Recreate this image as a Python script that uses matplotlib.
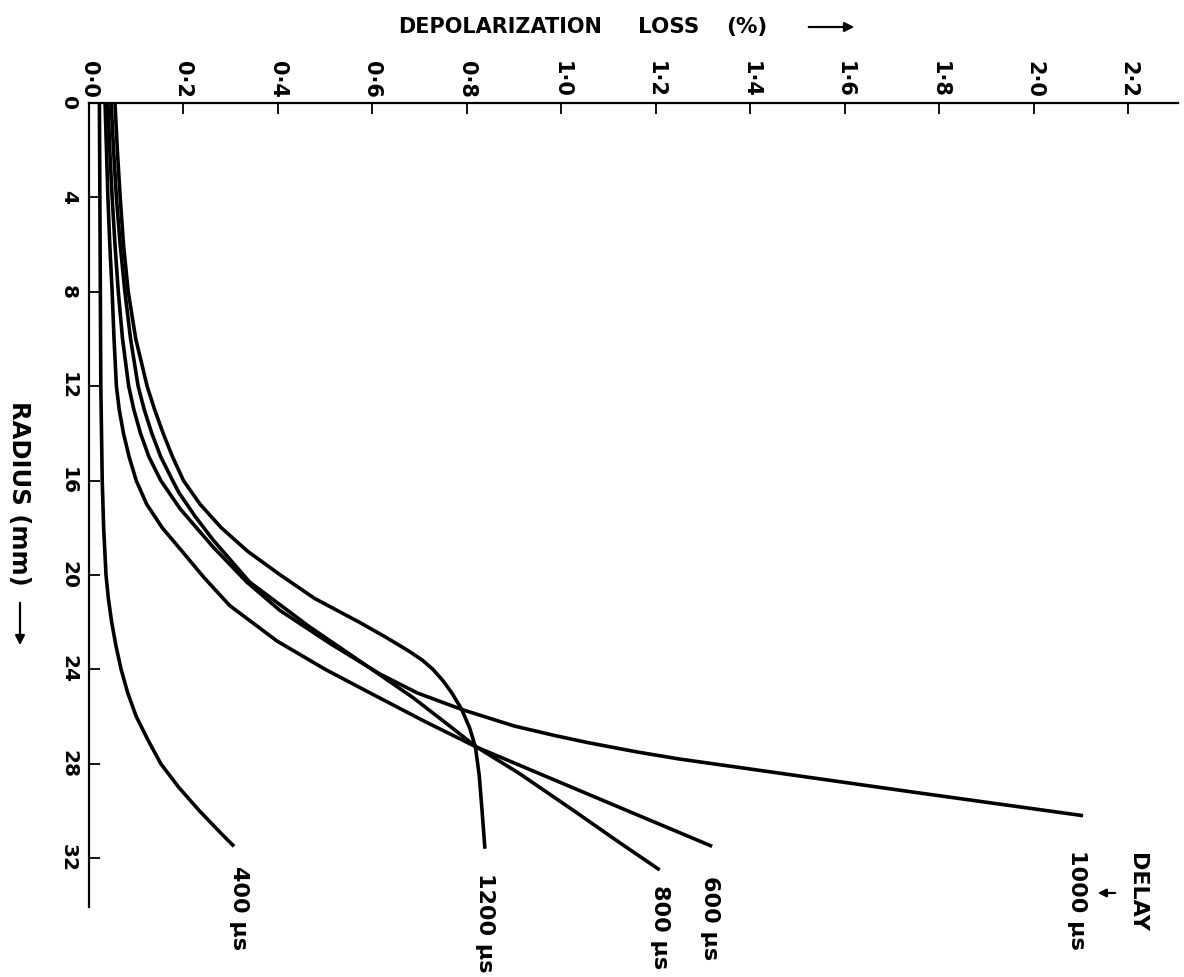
import numpy as np
import matplotlib
matplotlib.use("Agg")
import matplotlib.pyplot as plt
from matplotlib.patches import FancyArrowPatch

W, H = 1184, 977

# radius (mm) and depolarization loss (%)
r400 = [0, 4, 8, 12, 16, 18, 20, 21, 22, 23, 24, 25, 26, 27, 28, 29, 30, 31, 31.5]
l400 = [0.022, 0.023, 0.024, 0.025, 0.028, 0.031, 0.036, 0.041, 0.048, 0.057, 0.068, 0.082,
        0.1, 0.125, 0.152, 0.19, 0.234, 0.282, 0.307]

r600 = [0, 2, 4, 6, 8, 10, 12, 13, 14, 15, 16, 17, 18, 18.9, 20.1, 21.3, 22.8, 24, 25, 26.2,
        27.3, 28.5, 29.8, 31.5]
l600 = [0.034, 0.037, 0.04, 0.044, 0.049, 0.053, 0.058, 0.064, 0.073, 0.085, 0.1, 0.122, 0.155,
        0.193, 0.243, 0.298, 0.398, 0.5, 0.595, 0.71, 0.821, 0.963, 1.117, 1.319]

r800 = [0, 2, 4, 6, 8, 10, 12, 13, 14, 15, 16, 16.5, 17.5, 18.5, 20.3, 22.2, 23.7, 25.2, 26.3,
        27.3, 28.4, 30, 31.3, 32.5]
l800 = [0.047, 0.052, 0.058, 0.066, 0.076, 0.088, 0.104, 0.117, 0.133, 0.152, 0.177, 0.19, 0.224,
        0.262, 0.34, 0.467, 0.577, 0.686, 0.757, 0.821, 0.91, 1.027, 1.12, 1.208]

r1000 = [0, 2, 4, 6, 8, 10, 12, 13, 14, 15, 16, 17.2, 18.8, 20.3, 21.5, 22.9, 24.2, 25, 25.7,
         26.4, 26.8, 27.1, 27.5, 27.8, 28.4, 29.2, 30.2]
l1000 = [0.04, 0.044, 0.049, 0.055, 0.062, 0.071, 0.084, 0.095, 0.109, 0.127, 0.152, 0.193,
         0.262, 0.334, 0.404, 0.51, 0.616, 0.695, 0.789, 0.9, 0.985, 1.055, 1.16, 1.25, 1.462,
         1.744, 2.104]

r1200 = [0, 2, 4, 6, 8, 10, 12, 13, 14, 15, 16, 17, 18, 19, 20, 21, 22, 22.6, 23.2, 23.6, 24,
         24.5, 25, 25.7, 26.5, 27.3, 28.5, 30, 31.6]
l1200 = [0.055, 0.06, 0.066, 0.073, 0.083, 0.099, 0.123, 0.139, 0.157, 0.177, 0.2, 0.235, 0.28,
         0.336, 0.405, 0.478, 0.572, 0.625, 0.675, 0.705, 0.728, 0.75, 0.768, 0.789, 0.806,
         0.818, 0.826, 0.832, 0.838]

loss_ticks = [0.0, 0.2, 0.4, 0.6, 0.8, 1.0, 1.2, 1.4, 1.6, 1.8, 2.0, 2.2]
loss_labels = ["0·0", "0·2", "0·4", "0·6", "0·8", "1·0", "1·2", "1·4", "1·6", "1·8", "2·0", "2·2"]
radius_ticks = [0, 4, 8, 12, 16, 20, 24, 28, 32]

curves = [
    (r400, l400, "400 µs", (5, -20)),
    (r600, l600, "600 µs", (-2, -30)),
    (r800, l800, "800 µs", (0, -15)),
    (r1000, l1000, "1000 µs", (-6, -34)),
    (r1200, l1200, "1200 µs", (0, -24)),
]

plt.rcParams['font.family'] = ['DejaVu Sans']

fig = plt.figure(figsize=(W / 100, H / 100), dpi=100)
ax = fig.add_axes([89 / W, 1 - 907 / H, (1178 - 89) / W, (907 - 103) / H])

for r, l, name, off in curves:
    ax.plot(l, r, color="black", lw=2.6, solid_joinstyle="round", solid_capstyle="butt")
    ax.annotate(name, xy=(l[-1], r[-1]), xytext=off, textcoords="offset pixels",
                rotation=-90, ha="center", va="top", fontsize=16, fontweight="bold")

# "DELAY" note beside the 1000 us label
ax.annotate("DELAY", xy=(l1000[-1], r1000[-1]), xytext=(54, -37), textcoords="offset pixels",
            rotation=-90, ha="center", va="top", fontsize=16, fontweight="bold")
ax.annotate("", xy=(1095, H - 893), xycoords="figure pixels",
            xytext=(1118, H - 893), textcoords="figure pixels",
            arrowprops=dict(arrowstyle="-|>", lw=1.6, color="black", mutation_scale=12))

ax.set_xlim(0, 2.305)
ax.set_ylim(34.07, 0)

ax.xaxis.tick_top()
ax.set_xticks(loss_ticks)
ax.set_xticklabels(loss_labels, rotation=-90, fontsize=15, fontweight="bold")
ax.set_yticks(radius_ticks)
ax.set_yticklabels([str(t) for t in radius_ticks], rotation=-90, fontsize=14.5,
                   fontweight="bold", va="center")
ax.tick_params(axis="x", direction="in", length=8, width=1.3, pad=4)
ax.tick_params(axis="y", direction="in", length=8, width=1.3, pad=8)

for side in ["right", "bottom"]:
    ax.spines[side].set_visible(False)
for side in ["top", "left"]:
    ax.spines[side].set_linewidth(1.6)

# axis titles, written as on the original page
fig.text(398 / W, 1 - 27 / H, "DEPOLARIZATION", ha="left", va="center", fontsize=15, fontweight="bold")
fig.text(638 / W, 1 - 27 / H, "LOSS", ha="left", va="center", fontsize=15.5, fontweight="bold")
fig.text(726 / W, 1 - 27 / H, "(%)", ha="left", va="center", fontsize=15.5, fontweight="bold")
fig.text(19 / W, 1 - 493 / H, "RADIUS (mm)", rotation=-90, ha="center", va="center",
         fontsize=17.5, fontweight="bold")

fig.add_artist(FancyArrowPatch((806 / W, 1 - 27 / H), (857 / W, 1 - 27 / H),
                               transform=fig.transFigure, arrowstyle="-|>",
                               mutation_scale=14, lw=1.6, color="black"))
fig.add_artist(FancyArrowPatch((20 / W, 1 - 600 / H), (20 / W, 1 - 648 / H),
                               transform=fig.transFigure, arrowstyle="-|>",
                               mutation_scale=14, lw=1.6, color="black"))

fig.savefig("out.png", dpi=100, facecolor="white")
